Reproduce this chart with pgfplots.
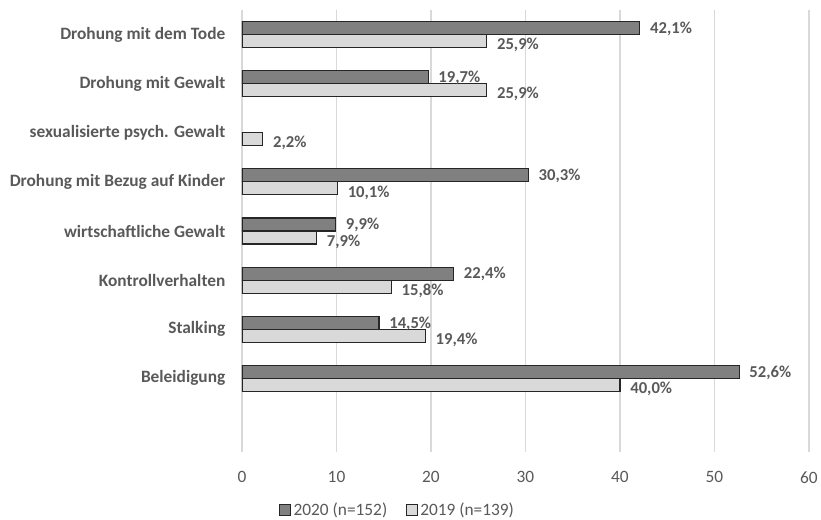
\documentclass[border=0pt]{standalone}
\usepackage{pgfplots}
\pgfplotsset{compat=1.18}
\usepackage{fontspec}
\setmainfont{Carlito}
\definecolor{txt}{HTML}{595959}
\definecolor{dark}{HTML}{808080}
\definecolor{light}{HTML}{D9D9D9}
\definecolor{gridc}{HTML}{D9D9D9}
\begin{document}
\begin{tikzpicture}
\useasboundingbox (-181.5pt,-51pt) rectangle (434.25pt,339pt);
\begin{axis}[
    at={(0,0)}, anchor=south west,
    scale only axis,
    width=425.25pt, height=331.5pt,
    xbar,
    bar width=9.75pt,
    xmin=0, xmax=60,
    ymin=-0.5, ymax=8.5,
    y dir=reverse,
    axis line style={draw=none},
    xtick={0,10,...,60},
    ytick={0,...,7},
    yticklabels={Drohung mit dem Tode, Drohung mit Gewalt, sexualisierte psych. Gewalt, Drohung mit Bezug auf Kinder, wirtschaftliche Gewalt, Kontrollverhalten, Stalking, Beleidigung},
    yticklabel style={font=\fontsize{13}{15}\selectfont\bfseries, text=txt, xshift=-9pt},
    xticklabel style={font=\fontsize{13}{15}\selectfont, text=txt, yshift=-11pt},
    /pgf/number format/assume math mode=true,
    major tick length=0pt,
    xmajorgrids,
    grid style={gridc, line width=0.8pt},
    nodes near coords={\pgfmathprintnumber[fixed,fixed zerofill,precision=1,use comma]{\pgfplotspointmeta}\%},
    nodes near coords style={font=\fontsize{12.5}{14}\selectfont\bfseries, text=txt, anchor=west,
      xshift=4pt, inner ysep=0pt},
    legend columns=2,
    legend style={draw=none, at={(axis description cs:0.275,-0.131)}, anchor=center,
      font=\fontsize{13}{15}\selectfont, text=txt, /tikz/every even column/.append style={column sep=12pt}},
    legend image code/.code={\draw[#1] (0pt,-4pt) rectangle (8pt,4pt);},
  ]
  \addplot[fill=dark, draw=black!85, line width=0.8pt, bar shift=4.875pt,
    nodes near coords style={yshift=-0.5pt}] coordinates {
    (42.1,0) (19.7,1) (30.3,3) (9.9,4) (22.4,5) (14.5,6) (52.6,7)
  };
  \addplot[fill=light, draw=black!85, line width=0.8pt, bar shift=-4.875pt,
    nodes near coords style={yshift=-3pt}] coordinates {
    (25.9,0) (25.9,1) (2.2,2) (10.1,3) (7.9,4) (15.8,5) (19.4,6) (40.0,7)
  };
  \legend{2020 (n=152), 2019 (n=139)}
\end{axis}
\end{tikzpicture}
\end{document}
